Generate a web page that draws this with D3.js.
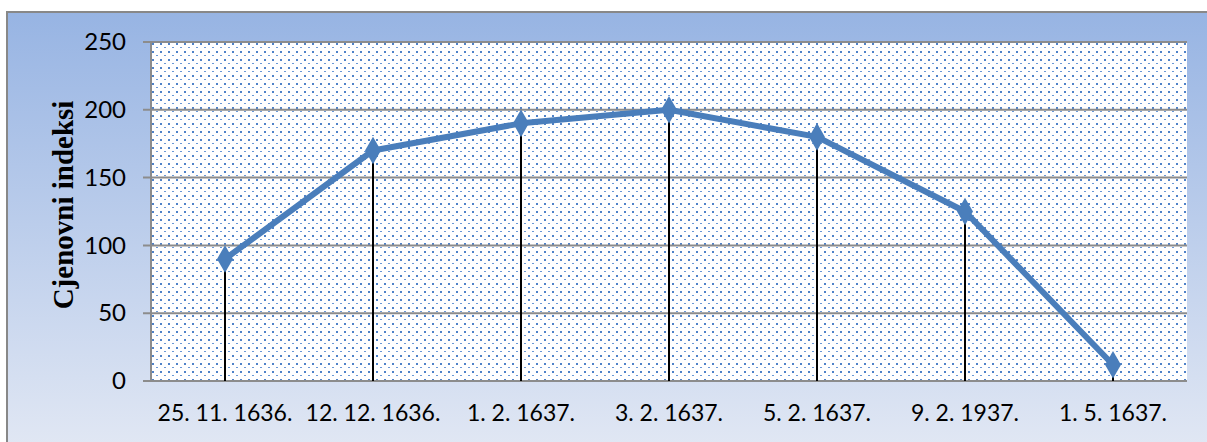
<!DOCTYPE html>
<html>
<head>
<meta charset="utf-8">
<script src="https://cdn.jsdelivr.net/npm/d3@7"></script>
<style>
  body { margin: 0; background: #fff; }
</style>
</head>
<body>
<div class="chart"></div>
<script>
var dates = ["25. 11. 1636.", "12. 12. 1636.", "1. 2. 1637.", "3. 2. 1637.", "5. 2. 1637.", "9. 2. 1937.", "1. 5. 1637."];
var indexValues = [90, 170, 190, 200, 180, 125, 12];
var yTicks = [0, 50, 100, 150, 200, 250];

var svgWidth = 1207;
var svgHeight = 442;

var margin = { top: 42, right: 20, bottom: 61, left: 151 };
var width = 1187 - margin.left;
var height = 381 - margin.top;

var svg = d3.select(".chart")
    .append("svg")
    .attr("width", svgWidth)
    .attr("height", svgHeight);

var defs = svg.append("defs");

// frame background gradient
var grad = defs.append("linearGradient")
    .attr("id", "bg")
    .attr("x1", 0).attr("y1", 0).attr("x2", 0).attr("y2", 1);
grad.append("stop").attr("offset", "0%").attr("stop-color", "#97b4e3");
grad.append("stop").attr("offset", "100%").attr("stop-color", "#e2e8f4");

// dotted fill of the plot area
var pat = defs.append("pattern")
    .attr("id", "dots")
    .attr("patternUnits", "userSpaceOnUse")
    .attr("width", 8).attr("height", 8);
pat.append("rect").attr("width", 8).attr("height", 8).attr("fill", "#fff");
pat.append("rect").attr("x", 1).attr("y", 1).attr("width", 2).attr("height", 2).attr("fill", "#4f82c8");
pat.append("rect").attr("x", 5).attr("y", 5).attr("width", 2).attr("height", 1).attr("fill", "#6a98d6");

svg.append("rect")
    .attr("x", 7).attr("y", 12)
    .attr("width", svgWidth).attr("height", svgHeight)
    .attr("fill", "url(#bg)")
    .attr("stroke", "#888")
    .attr("stroke-width", 2);

var chartGroup = svg.append("g")
    .attr("transform", `translate(${margin.left}, ${margin.top})`);

var xScale = d3.scaleBand()
    .domain(dates)
    .range([0, width]);

var yScale = d3.scaleLinear()
    .domain([0, 250])
    .range([height, 0]);

chartGroup.append("rect")
    .attr("width", width)
    .attr("height", height)
    .attr("fill", "url(#dots)");

// gridlines
chartGroup.selectAll(".grid")
    .data(yTicks)
    .enter()
    .append("line")
    .attr("x1", -8)
    .attr("x2", width)
    .attr("y1", d => yScale(d))
    .attr("y2", d => yScale(d))
    .attr("stroke", "#8c8c8c")
    .attr("stroke-width", 2);

// left axis line
chartGroup.append("line")
    .attr("x1", 0).attr("x2", 0)
    .attr("y1", 0).attr("y2", height)
    .attr("stroke", "#8c8c8c")
    .attr("stroke-width", 2);

var leftAxis = d3.axisLeft(yScale).tickValues(yTicks).tickSize(0).tickPadding(25);
chartGroup.append("g")
    .call(leftAxis)
    .call(g => g.select(".domain").remove())
    .selectAll("text")
    .style("font-family", "Lato, sans-serif")
    .style("font-size", "24px")
    .attr("fill", "#000");

var bottomAxis = d3.axisBottom(xScale).tickSize(0).tickPadding(24);
chartGroup.append("g")
    .attr("transform", `translate(0,${height})`)
    .call(bottomAxis)
    .call(g => g.select(".domain").remove())
    .selectAll("text")
    .style("font-family", "Lato, sans-serif")
    .style("font-size", "23px")
    .attr("fill", "#000");

var cx = d => xScale(d) + xScale.bandwidth() / 2;

// drop lines
chartGroup.selectAll(".drop")
    .data(dates)
    .enter()
    .append("line")
    .attr("x1", d => cx(d))
    .attr("x2", d => cx(d))
    .attr("y1", (d, i) => yScale(indexValues[i]))
    .attr("y2", height)
    .attr("stroke", "#000")
    .attr("stroke-width", 2);

var line = d3.line()
    .x(d => cx(d))
    .y((d, i) => yScale(indexValues[i]));

chartGroup.append("path")
    .datum(dates)
    .attr("d", line)
    .attr("fill", "none")
    .attr("stroke", "#4a7ebb")
    .attr("stroke-width", 6)
    .attr("stroke-linejoin", "round");

chartGroup.selectAll(".marker")
    .data(dates)
    .enter()
    .append("path")
    .attr("d", d3.symbol().type(d3.symbolDiamond).size(220))
    .attr("transform", (d, i) => `translate(${cx(d)}, ${yScale(indexValues[i])})`)
    .attr("fill", "#4a7ebb");

svg.append("text")
    .attr("transform", `translate(73, 205) rotate(-90)`)
    .attr("text-anchor", "middle")
    .attr("font-family", "'Liberation Serif', serif")
    .attr("font-weight", "bold")
    .attr("font-size", 29)
    .attr("fill", "#000")
    .text("Cjenovni indeksi");
</script>
</body>
</html>
